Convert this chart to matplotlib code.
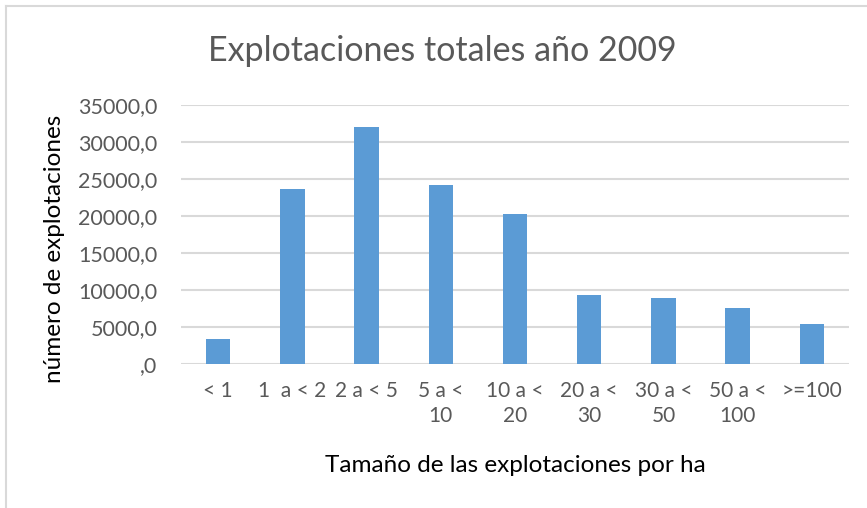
import numpy as np
import matplotlib.pyplot as plt
from matplotlib.lines import Line2D
from matplotlib.ticker import FuncFormatter

# datos
categorias = ["< 1", "1  a < 2", "2 a < 5", "5 a <\n10", "10 a <\n20",
              "20 a <\n30", "30 a <\n50", "50 a <\n100", ">=100"]
explotaciones = [3350, 23700, 32000, 24200, 20250, 9300, 8900, 7550, 5400]
y_ticks = [0, 5000, 10000, 15000, 20000, 25000, 30000, 35000]

azul = "#5B9BD5"
gris = "#595959"
W, H = 867, 508

plt.rcParams['font.family'] = ['Lato', 'DejaVu Sans']

fig = plt.figure(figsize=(W / 100, H / 100), dpi=100)
ax = fig.add_axes([181 / W, 1 - 364 / H, (849 - 181) / W, (364 - 105) / H])

x = np.arange(len(categorias))
ax.bar(x, explotaciones, width=0.33, color=azul, zorder=3)

ax.set_xlim(-0.5, len(categorias) - 0.5)
ax.set_ylim(0, 35000)
ax.set_yticks(y_ticks)
ax.yaxis.set_major_formatter(FuncFormatter(
    lambda v, p: ",0" if v == 0 else f"{int(v)},0"))
ax.set_xticks(x)
ax.set_xticklabels(categorias, linespacing=1.35, va="top")
ax.tick_params(axis="both", length=0, colors=gris)
ax.tick_params(axis="y", pad=17, labelsize=15.5)
ax.tick_params(axis="x", pad=12, labelsize=15)

ax.grid(axis="y", color="#D9D9D9", linewidth=1.5, zorder=0)
for s in ax.spines.values():
    s.set_visible(False)

# títulos
fig.text(442 / W, 1 - 51 / H, "Explotaciones totales año 2009",
         ha="center", va="center", fontsize=24.5, color=gris)
fig.text(55 / W, 1 - 249 / H, "número de explotaciones", rotation=90,
         ha="center", va="center", fontsize=17.5, color="black")
fig.text(515 / W, 1 - 465 / H, "Tamaño de las explotaciones por ha",
         ha="center", va="center", fontsize=17.5, color="black")

# marco del gráfico (solo se ven los bordes izquierdo y superior)
fig.add_artist(Line2D([5.5 / W, 5.5 / W], [0, 1 - 5.5 / H],
                      transform=fig.transFigure, color="#D9D9D9", lw=1.5))
fig.add_artist(Line2D([5.5 / W, 1], [1 - 5.5 / H, 1 - 5.5 / H],
                      transform=fig.transFigure, color="#D9D9D9", lw=1.5))

fig.savefig("out.png", dpi=100)
